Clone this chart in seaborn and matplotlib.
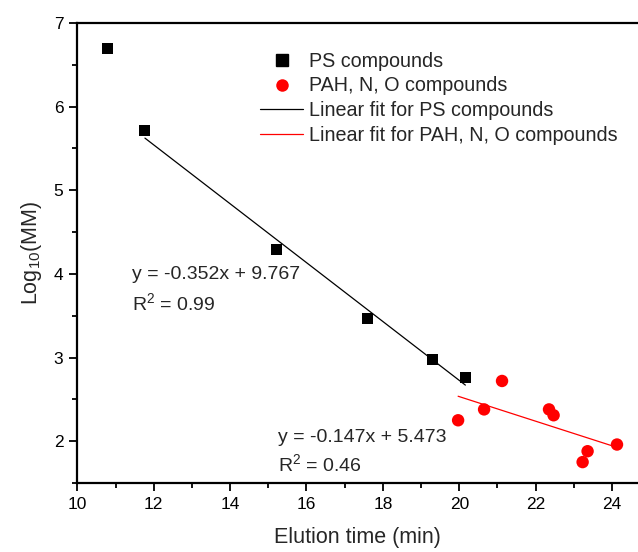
import numpy as np
import pandas as pd
import matplotlib
matplotlib.use("Agg")
import matplotlib.pyplot as plt
import seaborn as sns
from matplotlib.lines import Line2D

# Data
ps_time = [10.80, 11.77, 15.22, 17.60, 19.31, 20.16]
ps_logmm = [6.70, 5.72, 4.29, 3.47, 2.98, 2.76]

pah_time = [19.97, 20.65, 21.12, 22.35, 22.47, 23.23, 23.36, 24.13]
pah_logmm = [2.25, 2.38, 2.72, 2.38, 2.31, 1.75, 1.88, 1.96]

ps_fit = (-0.352, 9.767)      # slope, intercept
ps_fit_range = (11.77, 20.16)
pah_fit = (-0.147, 5.473)
pah_fit_range = (19.97, 24.13)

ps_eq = "y = -0.352x + 9.767"
ps_r2 = "0.99"
pah_eq = "y = -0.147x + 5.473"
pah_r2 = "0.46"

legend_labels = ["PS compounds", "PAH, N, O compounds",
                 "Linear fit for PS compounds",
                 "Linear fit for PAH, N, O compounds"]

sns.set_theme(style="ticks")
plt.rcParams['font.family'] = ['Liberation Sans', 'DejaVu Sans']
plt.rcParams['mathtext.fontset'] = 'custom'
plt.rcParams['mathtext.rm'] = 'Liberation Sans'
plt.rcParams['mathtext.it'] = 'Liberation Sans'

fig = plt.figure(figsize=(6.38, 5.52), dpi=100)
ax = fig.add_axes([0.1212, 0.125, 0.8788, 0.8333])

ps_df = pd.DataFrame({"t": ps_time, "m": ps_logmm})
pah_df = pd.DataFrame({"t": pah_time, "m": pah_logmm})

def fit_df(fit, rng):
    xs = np.array(rng)
    return pd.DataFrame({"t": xs, "m": fit[0] * xs + fit[1]})

sns.lineplot(data=fit_df(ps_fit, ps_fit_range), x="t", y="m", ax=ax,
             color="black", linewidth=0.9, zorder=2)
sns.lineplot(data=fit_df(pah_fit, pah_fit_range), x="t", y="m", ax=ax,
             color="red", linewidth=0.9, zorder=2)
sns.scatterplot(data=ps_df, x="t", y="m", ax=ax, marker="s", s=62,
                color="black", edgecolor="none", zorder=3)
sns.scatterplot(data=pah_df, x="t", y="m", ax=ax, marker="o", s=80,
                color="red", edgecolor="none", zorder=3)

ax.set_xlim(10, 24.68)
ax.set_ylim(1.5, 7)
ax.set_xticks(np.arange(10, 25, 2))
ax.set_xticks(np.arange(11, 25, 2), minor=True)
ax.set_yticks(np.arange(2, 8, 1))
ax.set_yticks(np.arange(1.5, 7.0, 1), minor=True)
ax.tick_params(axis="both", which="major", direction="out", length=6,
               width=1.3, labelsize=12.5, color="black", labelcolor="black", pad=4)
ax.tick_params(axis="both", which="minor", direction="out", length=3.5,
               width=1.3, color="black")
for side in ["left", "top", "bottom"]:
    ax.spines[side].set_visible(True)
    ax.spines[side].set_linewidth(1.6)
    ax.spines[side].set_color("black")
ax.spines["right"].set_visible(False)

ax.set_xlabel("Elution time (min)", fontsize=15.5, labelpad=11)
ax.set_ylabel(r"Log$_{\mathregular{10}}$(MM)", fontsize=15.5, labelpad=7)

ax.text(11.43, 3.99, ps_eq, fontsize=14, va="center", ha="left")
ax.text(11.43, 3.65, r"R$^{\mathregular{2}}$ = " + ps_r2, fontsize=14,
        va="center", ha="left")
ax.text(15.25, 2.04, pah_eq, fontsize=14, va="center", ha="left")
ax.text(15.25, 1.72, r"R$^{\mathregular{2}}$ = " + pah_r2, fontsize=14,
        va="center", ha="left")

handles = [
    Line2D([], [], marker="s", color="black", linestyle="none", markersize=8),
    Line2D([], [], marker="o", color="red", linestyle="none", markersize=9,
           markeredgecolor="none"),
    Line2D([], [], color="black", linewidth=0.9),
    Line2D([], [], color="red", linewidth=0.9),
]
ax.legend(handles, legend_labels, loc="upper left",
          bbox_to_anchor=(0.326, 0.938), frameon=False, fontsize=14.2,
          handlelength=2.18, handletextpad=0.3, labelspacing=0.3,
          borderaxespad=0, borderpad=0)

fig.savefig("out.png", dpi=100)
